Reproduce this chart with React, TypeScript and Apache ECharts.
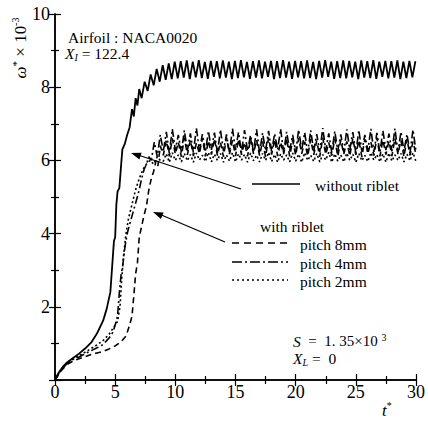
import React, { useEffect, useRef } from "react";
import * as echarts from "echarts";

// ---------- data ----------
const xTickStep = 5;
const yTickStep = 2;
const plateauStep = 0.25;

// without riblet (solid)
const withoutRibletRise: [number, number][] = [
  [0, 0], [0.3, 0.2], [0.7, 0.38], [1, 0.48], [1.5, 0.6], [2, 0.72], [2.5, 0.86], [3, 1.02],
  [3.5, 1.28], [4, 1.62], [4.3, 1.95], [4.5, 2.25], [4.6, 2.4], [4.75, 3.1], [4.9, 3.8], [5.0, 3.9],
  [5.1, 4.8], [5.2, 5.15], [5.35, 5.25], [5.5, 5.9], [5.6, 6.3], [5.8, 6.45], [6.0, 6.7], [6.2, 6.9],
  [6.4, 7.4], [6.55, 7.2], [6.7, 7.7], [6.85, 7.5], [7.0, 7.95], [7.2, 7.7], [7.45, 8.15], [7.7, 7.9],
  [7.95, 8.35], [8.2, 8.05], [8.45, 8.5], [8.7, 8.15], [8.95, 8.6], [9.2, 8.2], [9.45, 8.65], [9.7, 8.22],
  [9.95, 8.7],
];
const withoutRibletPlateauStart = 10.2;
const withoutRibletPlateau = [
  8.24, 8.71, 8.26, 8.73, 8.22, 8.70, 8.27, 8.74, 8.25, 8.69,
  8.23, 8.72, 8.28, 8.71, 8.24, 8.73, 8.26, 8.70, 8.22, 8.72,
  8.25, 8.74, 8.27, 8.69, 8.23, 8.71, 8.26, 8.73, 8.24, 8.70,
  8.28, 8.72, 8.22, 8.71, 8.25, 8.74, 8.26, 8.70, 8.23, 8.72,
  8.27, 8.71, 8.24, 8.73, 8.25, 8.69, 8.22, 8.72, 8.26, 8.74,
  8.28, 8.70, 8.23, 8.71, 8.25, 8.73, 8.24, 8.72, 8.27, 8.70,
  8.22, 8.73, 8.26, 8.71, 8.25, 8.74, 8.23, 8.70, 8.28, 8.72,
  8.24, 8.71, 8.26, 8.73, 8.22, 8.70, 8.25, 8.72, 8.27, 8.71,
];

// pitch 8mm (dashed)
const pitch8Rise: [number, number][] = [
  [0, 0], [0.5, 0.25], [1, 0.42], [1.5, 0.52], [2, 0.58], [2.5, 0.64], [3, 0.7], [3.5, 0.74],
  [4, 0.78], [4.5, 0.85], [5, 0.93], [5.5, 1.05], [5.9, 1.2], [6.2, 1.5], [6.4, 1.75], [6.55, 2.3],
  [6.7, 2.9], [6.85, 3.2], [7.0, 3.9], [7.2, 4.2], [7.4, 4.5], [7.6, 4.75], [7.8, 5.2], [8.0, 5.5],
  [8.2, 5.7], [8.4, 6.0], [8.55, 5.85], [8.75, 6.4],
];
const pitch8PlateauStart = 9.0;
const pitch8Plateau = [
  6.14, 6.55, 6.11, 6.60, 6.17, 6.50, 6.10, 6.62, 6.15, 6.56,
  6.12, 6.48, 6.18, 6.61, 6.11, 6.54, 6.16, 6.59, 6.13, 6.50,
  6.10, 6.63, 6.17, 6.55, 6.12, 6.58, 6.15, 6.49, 6.11, 6.60,
  6.18, 6.56, 6.13, 6.52, 6.10, 6.62, 6.16, 6.57, 6.12, 6.50,
  6.17, 6.60, 6.11, 6.55, 6.14, 6.61, 6.18, 6.51, 6.12, 6.58,
  6.15, 6.54, 6.10, 6.62, 6.16, 6.49, 6.13, 6.59, 6.11, 6.56,
  6.17, 6.52, 6.12, 6.61, 6.15, 6.55, 6.10, 6.58, 6.18, 6.50,
  6.13, 6.62, 6.11, 6.56, 6.16, 6.53, 6.12, 6.60, 6.17, 6.55,
  6.10, 6.59, 6.14, 6.51, 6.16,
];

// pitch 4mm (dash-dot)
const pitch4Rise: [number, number][] = [
  [0, 0], [0.5, 0.27], [1, 0.45], [1.5, 0.56], [2, 0.63], [2.5, 0.72], [3, 0.8], [3.5, 0.88],
  [4, 0.97], [4.5, 1.15], [4.8, 1.3], [5.0, 1.5], [5.2, 1.75], [5.35, 2.4], [5.5, 2.9], [5.6, 3.05],
  [5.8, 3.6], [6.0, 4.0], [6.2, 4.25], [6.5, 4.6], [6.8, 4.95], [7.0, 5.2], [7.2, 5.5], [7.4, 5.75],
  [7.6, 5.9], [7.8, 6.1], [8.0, 6.0], [8.25, 6.5], [8.5, 6.1], [8.75, 6.7],
];
const pitch4PlateauStart = 9.0;
const pitch4Plateau = [
  6.24, 6.78, 6.20, 6.86, 6.28, 6.70, 6.22, 6.82, 6.26, 6.74,
  6.21, 6.88, 6.27, 6.72, 6.23, 6.80, 6.29, 6.76, 6.20, 6.84,
  6.25, 6.71, 6.22, 6.87, 6.28, 6.77, 6.21, 6.83, 6.26, 6.69,
  6.23, 6.85, 6.20, 6.75, 6.27, 6.81, 6.24, 6.73, 6.29, 6.86,
  6.21, 6.78, 6.26, 6.70, 6.22, 6.84, 6.28, 6.76, 6.20, 6.82,
  6.25, 6.72, 6.23, 6.88, 6.27, 6.74, 6.21, 6.80, 6.26, 6.71,
  6.22, 6.85, 6.29, 6.77, 6.20, 6.83, 6.24, 6.70, 6.27, 6.86,
  6.23, 6.75, 6.21, 6.81, 6.28, 6.73, 6.25, 6.87, 6.22, 6.78,
  6.26, 6.72, 6.20, 6.84, 6.24,
];

// pitch 2mm (dotted)
const pitch2Rise: [number, number][] = [
  [0, 0], [0.5, 0.28], [1, 0.47], [1.5, 0.58], [2, 0.67], [2.5, 0.76], [3, 0.86], [3.5, 0.96],
  [4, 1.08], [4.5, 1.25], [4.9, 1.45], [5.2, 1.6], [5.4, 2.0], [5.55, 2.8], [5.7, 3.4], [5.9, 4.0],
  [6.1, 4.4], [6.4, 4.8], [6.7, 5.2], [7.0, 5.5], [7.3, 5.75], [7.6, 5.9], [7.9, 6.0], [8.2, 5.9],
  [8.5, 6.1], [8.75, 6.0],
];
const pitch2PlateauStart = 9.0;
const pitch2Plateau = [
  5.98, 6.18, 5.95, 6.21, 6.00, 6.15, 5.96, 6.19, 5.99, 6.16,
  5.95, 6.20, 6.01, 6.14, 5.97, 6.22, 5.96, 6.17, 6.00, 6.19,
  5.95, 6.15, 5.98, 6.21, 5.96, 6.18, 6.01, 6.16, 5.95, 6.20,
  5.99, 6.14, 5.96, 6.19, 6.00, 6.22, 5.97, 6.16, 5.95, 6.18,
  6.01, 6.15, 5.96, 6.20, 5.98, 6.17, 5.95, 6.21, 6.00, 6.14,
  5.97, 6.19, 5.96, 6.16, 6.01, 6.22, 5.95, 6.18, 5.98, 6.15,
  5.96, 6.20, 6.00, 6.17, 5.95, 6.19, 5.99, 6.14, 5.97, 6.21,
  6.01, 6.16, 5.96, 6.18, 5.95, 6.20, 5.98, 6.15, 6.00, 6.19,
  5.96, 6.17, 5.99, 6.21, 5.97,
];

const legendLabels = ["pitch 8mm", "pitch 4mm", "pitch 2mm"];

function buildSeries(rise: [number, number][], start: number, plateau: number[]) {
  return rise.concat(plateau.map((v, i) => [start + i * plateauStep, v] as [number, number]));
}

const SERIF = "Liberation Serif, Times New Roman, serif";

export default function App() {
  const ref = useRef<HTMLDivElement>(null);
  useEffect(() => {
    if (!ref.current) return;
    document.body.style.margin = "0";
    const chart = echarts.init(ref.current, null, { renderer: "svg" });
    const axisLine = { show: true, lineStyle: { color: "#000", width: 1.5 } };
    const tick = { show: true, inside: true, length: 6, lineStyle: { color: "#000", width: 1.2 } };
    const minor = { show: true, splitNumber: 2, length: 4, lineStyle: { color: "#000", width: 1.2 } };
    const label = { fontFamily: SERIF, fontSize: 18, color: "#000" };
    const lineStyle = (type: any, width = 1.6) => ({ color: "#000", width, type });
    const txt = (x: number, y: number, text: string, size = 15.5, extra: any = {}) => ({
      type: "text", x, y,
      style: {
        text, fontFamily: SERIF, fontSize: size, fill: "#000", verticalAlign: "middle",
        ...extra,
      },
    });
    const richBase = {
      n: { fontFamily: SERIF, fontSize: 15.5, lineHeight: 18 },
      i: { fontFamily: SERIF, fontSize: 15.5, fontStyle: "italic", lineHeight: 18 },
      sub: { fontFamily: SERIF, fontSize: 10, fontStyle: "italic", lineHeight: 10, verticalAlign: "bottom" },
      sup: { fontFamily: SERIF, fontSize: 10, lineHeight: 10, verticalAlign: "top" },
    };
    const legendY = [243, 262, 280];
    const legendDash: any[] = [[7, 5], [10, 3, 2, 3], [2, 3]];

    chart.setOption({
      animation: false,
      grid: { left: 55, right: 10, top: 14, bottom: 43 },
      xAxis: [
        {
          type: "value", min: 0, max: 30, interval: xTickStep, position: "bottom",
          axisLine, axisTick: tick, minorTick: minor,
          splitLine: { show: false }, minorSplitLine: { show: false },
          axisLabel: { ...label, margin: 3 },
        },
        {
          type: "value", min: 0, max: 30, interval: xTickStep, position: "top",
          axisLine, axisTick: tick, minorTick: minor,
          splitLine: { show: false }, axisLabel: { show: false },
        },
      ],
      yAxis: [
        {
          type: "value", min: 0, max: 10, interval: yTickStep, position: "left",
          axisLine, axisTick: tick, minorTick: minor,
          splitLine: { show: false }, minorSplitLine: { show: false },
          axisLabel: { ...label, margin: 5, formatter: (v: number) => (v === 0 ? "" : String(v)) },
        },
        {
          type: "value", min: 0, max: 10, interval: yTickStep, position: "right",
          axisLine, axisTick: tick, minorTick: minor,
          splitLine: { show: false }, axisLabel: { show: false },
        },
      ],
      series: [
        {
          type: "line", name: "without riblet", showSymbol: false, symbol: "none",
          data: buildSeries(withoutRibletRise, withoutRibletPlateauStart, withoutRibletPlateau),
          lineStyle: lineStyle("solid", 1.8),
        },
        {
          type: "line", name: legendLabels[0], showSymbol: false, symbol: "none",
          data: buildSeries(pitch8Rise, pitch8PlateauStart, pitch8Plateau),
          lineStyle: lineStyle([6, 4]),
        },
        {
          type: "line", name: legendLabels[1], showSymbol: false, symbol: "none",
          data: buildSeries(pitch4Rise, pitch4PlateauStart, pitch4Plateau),
          lineStyle: lineStyle([8, 3, 2, 3]),
        },
        {
          type: "line", name: legendLabels[2], showSymbol: false, symbol: "none",
          data: buildSeries(pitch2Rise, pitch2PlateauStart, pitch2Plateau),
          lineStyle: lineStyle([2, 2.5]),
        },
      ],
      graphic: [
        // y-axis name
        {
          type: "text", x: 20, y: 48, rotation: Math.PI / 2,
          style: {
            text: "{w|ω}{s|*}{n| × 10}{sup|-3}",
            align: "center", verticalAlign: "middle", fill: "#000",
            rich: {
              w: { fontFamily: SERIF, fontSize: 17, fontStyle: "italic", lineHeight: 20 },
              s: { fontFamily: SERIF, fontSize: 11, lineHeight: 11, verticalAlign: "top" },
              n: { fontFamily: SERIF, fontSize: 17, lineHeight: 20 },
              sup: { fontFamily: SERIF, fontSize: 10, lineHeight: 10, verticalAlign: "top" },
            },
          },
        },
        // x-axis name
        {
          type: "text", x: 382, y: 410,
          style: {
            text: "{t|t}{s|*}", verticalAlign: "middle", fill: "#000",
            rich: {
              t: { fontFamily: SERIF, fontSize: 17, fontStyle: "italic", lineHeight: 20 },
              s: { fontFamily: SERIF, fontSize: 10, lineHeight: 10, verticalAlign: "top" },
            },
          },
        },
        txt(68, 37, "Airfoil : NACA0020"),
        {
          type: "text", x: 65, y: 53,
          style: { text: "{i|X}{sub|I}{n| = 122.4}", verticalAlign: "middle", fill: "#000", rich: richBase },
        },
        // without riblet legend
        { type: "line", shape: { x1: 252, y1: 184, x2: 300, y2: 184 }, style: { stroke: "#000", lineWidth: 1.6 } },
        txt(315, 185, "without riblet"),
        // arrow 1
        { type: "line", shape: { x1: 241, y1: 189, x2: 138, y2: 155 }, style: { stroke: "#000", lineWidth: 1.3 } },
        { type: "polygon", shape: { points: [[131, 153], [141.6, 152.7], [139.4, 159.4]] }, style: { fill: "#000" } },
        // arrow 2
        { type: "line", shape: { x1: 225, y1: 242, x2: 159, y2: 214 }, style: { stroke: "#000", lineWidth: 1.3 } },
        { type: "polygon", shape: { points: [[153, 212], [163.6, 212.6], [160.9, 219.1]] }, style: { fill: "#000" } },
        // with riblet legend
        txt(260, 226, "with riblet"),
        ...legendLabels.flatMap((lab, k) => [
          {
            type: "line", shape: { x1: 232, y1: legendY[k], x2: 288, y2: legendY[k] },
            style: { stroke: "#000", lineWidth: 1.6, lineDash: legendDash[k] },
          },
          txt(300, legendY[k] + 1, lab),
        ]),
        {
          type: "text", x: 293, y: 341,
          style: {
            text: "{i|S}{n|  =  1. 35×10 }{sup|3}", verticalAlign: "middle", fill: "#000",
            rich: { ...richBase, n: { ...richBase.n, fontSize: 15 } },
          },
        },
        {
          type: "text", x: 293, y: 358,
          style: { text: "{i|X}{sub|L}{n| =  0}", verticalAlign: "middle", fill: "#000", rich: richBase },
        },
      ],
    });
    return () => chart.dispose();
  }, []);
  return <div ref={ref} style={{ width: 428, height: 423 }} />;
}
